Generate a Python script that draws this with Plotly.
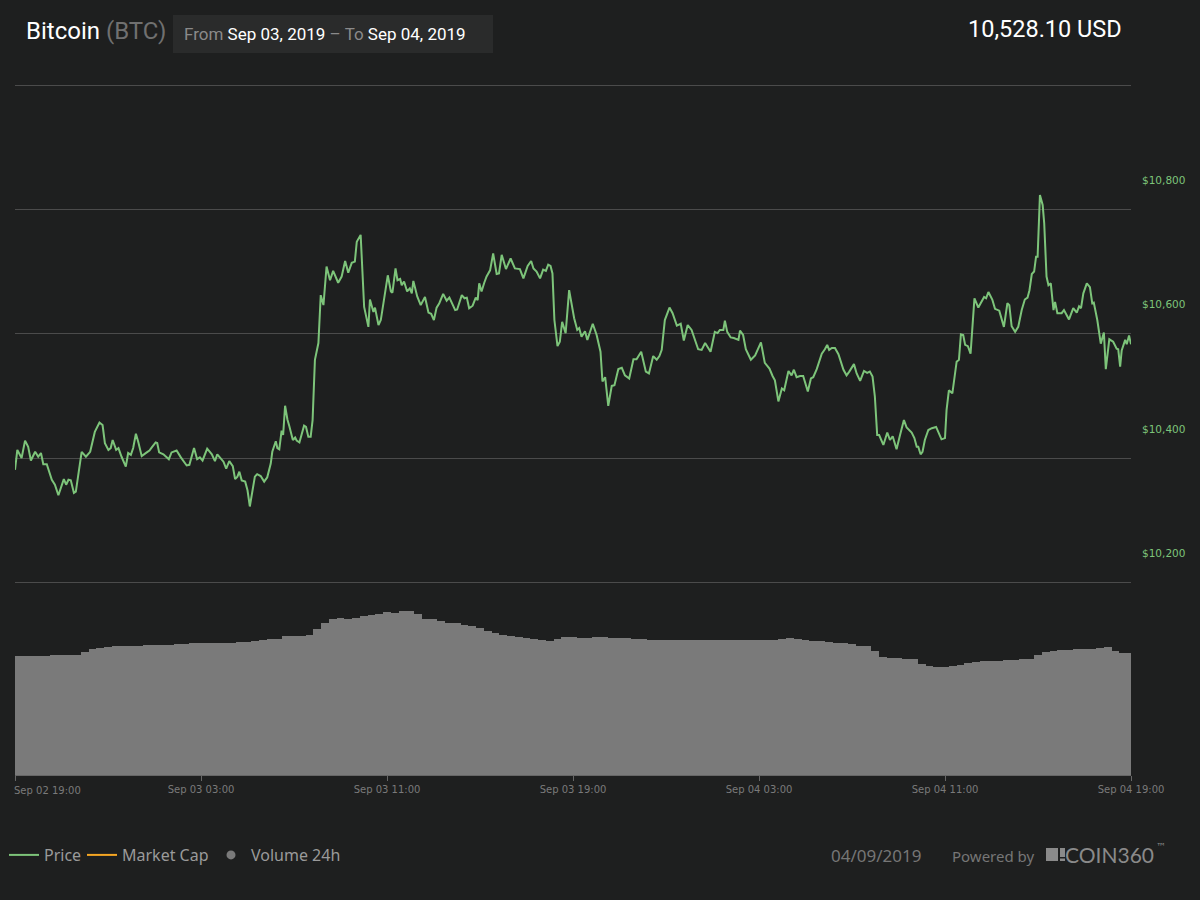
import pandas as pd
import plotly.graph_objects as go

# ---------------- data ----------------
START = pd.Timestamp("2019-09-02 19:00")
END = pd.Timestamp("2019-09-04 19:00")

# price samples: minutes after START, price in USD
price_minutes = [
    0, 6, 17, 26, 34, 41, 52, 60, 67, 73, 82, 95, 103, 112, 126, 132, 138, 144, 152, 157,
    172, 183, 194, 206, 218, 226, 232, 241, 247, 252, 261, 267, 275, 286, 292, 299, 305, 312, 318, 327,
    340, 347, 353, 363, 367, 372, 383, 397, 404, 417, 428, 443, 450, 462, 470, 477, 484, 496, 508, 516,
    522, 538, 545, 553, 562, 568, 574, 579, 585, 594, 600, 606, 619, 625, 634, 643, 651, 660, 664, 673,
    677, 682, 688, 692, 697, 703, 708, 717, 723, 727, 734, 746, 751, 757, 763,
    768, 774, 783, 789, 796, 804, 813, 821, 834, 843, 852, 860, 869, 877, 882, 892, 901, 912, 916, 925,
    929, 938, 944, 962, 970, 974, 982, 987, 994, 998, 1004, 1012, 1019, 1024, 1028, 1038, 1047, 1058, 1067, 1074,
    1081, 1088, 1095, 1105, 1114, 1121, 1136, 1141, 1153, 1160, 1166, 1172, 1181, 1189, 1194, 1198, 1204, 1211, 1217, 1226,
    1234, 1243, 1249, 1256, 1267, 1279, 1290, 1303, 1312, 1323, 1332, 1338, 1346, 1355, 1363, 1370, 1376, 1382, 1387, 1392,
    1400, 1406, 1412, 1421, 1430, 1443, 1451, 1456, 1462, 1471, 1477, 1491, 1501, 1511,
    1516, 1523, 1531, 1540, 1547, 1557, 1566, 1574, 1585, 1596, 1604, 1616, 1628, 1636, 1647, 1656, 1663, 1669, 1677, 1689,
    1697, 1708, 1718, 1726, 1736, 1746, 1763, 1772, 1781, 1795, 1806, 1813, 1819, 1828, 1832, 1838, 1847, 1855, 1867, 1871,
    1879, 1886, 1899, 1910, 1925, 1935, 1947, 1955, 1961, 1970, 1979, 1985, 1996, 2004, 2010, 2017, 2026, 2034, 2046, 2054,
    2060, 2069, 2082, 2090, 2096, 2101, 2108, 2116, 2125, 2138, 2146, 2153, 2165, 2172, 2181, 2191, 2199, 2206, 2213,
    2219, 2225, 2230, 2241, 2251, 2258, 2265, 2275, 2284, 2294, 2301, 2314, 2321, 2327, 2331, 2337, 2342, 2348, 2357, 2366,
    2377, 2383, 2391, 2400, 2404, 2410, 2419, 2430, 2436, 2441, 2447, 2452, 2459, 2466, 2476, 2486, 2495, 2501, 2506, 2512,
    2522, 2529, 2540, 2546, 2552, 2561, 2566, 2572, 2581, 2589, 2598, 2606, 2613, 2618, 2624, 2630, 2635, 2639, 2645, 2652,
    2656, 2662, 2667, 2673, 2680, 2684, 2690, 2701, 2707, 2720, 2731, 2740, 2746, 2751, 2757, 2766, 2774, 2780, 2784, 2793,
    2802, 2810, 2815, 2824, 2834, 2843, 2847, 2852, 2856, 2865, 2869, 2875, 2880,
]
price_usd = [
    10381, 10413, 10400, 10428, 10418, 10396, 10410, 10402, 10408, 10390, 10390, 10365, 10357, 10340, 10366, 10357, 10365, 10364, 10344, 10346,
    10410, 10402, 10410, 10442, 10457, 10453, 10424, 10413, 10416, 10429, 10413, 10416, 10402, 10386, 10408, 10405, 10416, 10439, 10426, 10403,
    10409, 10412, 10417, 10425, 10424, 10409, 10406, 10398, 10409, 10412, 10401, 10388, 10389, 10416, 10398, 10401, 10396, 10415, 10406, 10395,
    10406, 10394, 10383, 10395, 10387, 10366, 10370, 10378, 10364, 10362, 10348, 10322, 10370, 10374, 10371, 10362, 10369, 10391, 10410, 10427,
    10416, 10414, 10444, 10437, 10484, 10462, 10451, 10429, 10433, 10428, 10425, 10452, 10450, 10434, 10434,
    10461, 10558, 10585, 10662, 10646, 10708, 10686, 10701, 10682, 10692, 10717, 10698, 10714, 10716, 10748, 10759, 10643, 10611, 10655, 10635,
    10642, 10614, 10622, 10694, 10668, 10666, 10705, 10686, 10688, 10678, 10684, 10668, 10673, 10665, 10685, 10660, 10646, 10659, 10634, 10632,
    10622, 10642, 10649, 10664, 10653, 10658, 10638, 10639, 10662, 10657, 10658, 10641, 10645, 10658, 10654, 10681, 10668, 10682, 10692, 10702,
    10729, 10696, 10697, 10727, 10704, 10721, 10705, 10704, 10689, 10709, 10717, 10705, 10700, 10689, 10703, 10701, 10711, 10709, 10697, 10622,
    10580, 10587, 10619, 10601, 10670, 10625, 10606, 10609, 10595, 10604, 10590, 10616, 10598, 10571,
    10523, 10530, 10484, 10516, 10517, 10543, 10545, 10533, 10528, 10559, 10559, 10571, 10539, 10536, 10564, 10558, 10564, 10574, 10622, 10642,
    10633, 10613, 10616, 10589, 10614, 10606, 10575, 10574, 10585, 10571, 10603, 10601, 10606, 10606, 10621, 10603, 10594, 10593, 10590, 10605,
    10598, 10575, 10558, 10565, 10586, 10553, 10544, 10532, 10525, 10491, 10512, 10509, 10540, 10533, 10542, 10530, 10532, 10532, 10507, 10528,
    10530, 10543, 10568, 10575, 10582, 10574, 10577, 10577, 10567, 10542, 10533, 10539, 10551, 10536, 10524, 10540, 10537, 10539, 10531,
    10499, 10437, 10437, 10421, 10441, 10429, 10435, 10414, 10437, 10461, 10449, 10441, 10432, 10418, 10418, 10406, 10410, 10429, 10445, 10448,
    10450, 10441, 10430, 10432, 10477, 10509, 10504, 10555, 10558, 10599, 10598, 10582, 10580, 10568, 10657, 10642, 10651, 10659, 10657, 10667,
    10655, 10640, 10637, 10622, 10611, 10649, 10646, 10612, 10603, 10611, 10638, 10655, 10658, 10670, 10696, 10700, 10724, 10724, 10823, 10807,
    10778, 10692, 10678, 10681, 10638, 10651, 10633, 10633, 10638, 10623, 10641, 10634, 10644, 10641, 10665, 10681, 10675, 10649, 10650, 10622,
    10584, 10602, 10543, 10591, 10587, 10576, 10575, 10547, 10573, 10590, 10583, 10597, 10583,
]

# 24h volume (billions USD), one bar every 20 minutes from START
volume_bn = [
    12.33, 12.33, 12.33, 12.38, 12.38, 12.44, 12.44, 12.44, 12.44, 12.75,
    13.06, 13.21, 13.26, 13.32, 13.37, 13.42, 13.42, 13.47, 13.47, 13.52,
    13.52, 13.58, 13.58, 13.63, 13.68, 13.68, 13.68, 13.68, 13.73, 13.78,
    13.83, 13.89, 13.94, 14.09, 14.09, 14.40, 14.40, 14.40, 14.54, 15.13,
    15.75, 16.20, 16.24, 16.17, 16.27, 16.48, 16.58, 16.68, 16.89, 16.79,
    17.00, 17.00, 16.68, 16.20, 16.13, 15.96, 15.75, 15.75, 15.54, 15.44,
    15.23, 14.92, 14.72, 14.51, 14.40, 14.30, 14.20, 14.09, 13.99, 13.89,
    14.09, 14.30, 14.30, 14.20, 14.20, 14.30, 14.30, 14.20, 14.20, 14.15,
    14.09, 14.09, 13.99, 13.99, 13.99, 13.99, 13.99, 13.99, 13.99, 13.99,
    14.04, 14.04, 14.04, 14.04, 14.04, 14.04, 14.04, 14.04, 14.04, 14.09,
    14.20, 14.09, 13.99, 13.89, 13.89, 13.78, 13.68, 13.65, 13.54, 13.37,
    13.37, 12.88, 12.26, 12.15, 12.15, 12.05, 11.99, 11.47, 11.33, 11.22,
    11.22, 11.30, 11.37, 11.64, 11.68, 11.81, 11.81, 11.78, 11.92, 11.92,
    12.02, 12.02, 12.47, 12.75, 12.85, 12.92, 12.92, 13.02, 13.02, 13.02,
    13.19, 13.29, 12.88, 12.67, 12.67,
]

price_ticks = [10200, 10400, 10600, 10800]
price_tick_text = ["$10,200", "$10,400", "$10,600", "$10,800"]
price_top_grid = [11000]
x_first_tick = "2019-09-02 19:00"
x_ticks = ["2019-09-03 03:00", "2019-09-03 11:00", "2019-09-03 19:00",
           "2019-09-04 03:00", "2019-09-04 11:00", "2019-09-04 19:00"]
x_tick_text = ["Sep 03 03:00", "Sep 03 11:00", "Sep 03 19:00",
               "Sep 04 03:00", "Sep 04 11:00", "Sep 04 19:00"]
first_x_label = "Sep 02 19:00"

# ---------------- styling ----------------
BG = "#1e1f1f"
GREEN = "#7dc47a"
ORANGE = "#f5a623"
VOLGRAY = "#7a7a7a"
GRID = "#4b4b4b"
W, H = 1200, 900
ML, MR, MT, MB = 15, 69, 78, 125
PW, PH = W - ML - MR, H - MT - MB
PX_PER_USD = 124.3 / 200.0


def px(xp):
    return (xp - ML) / PW


def py(yp):
    return (H - MB - yp) / PH


split_y = 585.0
price_lo = 10200 - (split_y - 582.3) / PX_PER_USD
price_hi = 11000 + (85.1 - MT) / PX_PER_USD
vol_hi = (H - MB - split_y) / 9.65

price_times = [START + pd.Timedelta(minutes=m) for m in price_minutes]
vol_times = pd.date_range(START, periods=len(volume_bn), freq="20min")

fig = go.Figure()
fig.add_trace(go.Bar(
    x=vol_times, y=volume_bn, yaxis="y2", name="Volume 24h",
    marker=dict(color=VOLGRAY, line=dict(width=0)),
    width=20 * 60 * 1000, showlegend=False, hoverinfo="skip",
))
fig.add_trace(go.Scatter(
    x=price_times, y=price_usd, mode="lines", name="Price",
    line=dict(color=GREEN, width=2), legendwidth=33,
))
fig.add_trace(go.Scatter(
    x=[None], y=[None], mode="lines", name="Market Cap",
    line=dict(color=ORANGE, width=2), legendwidth=84,
))
fig.add_trace(go.Scatter(
    x=[None], y=[None], mode="markers", name="Volume 24h",
    marker=dict(color=VOLGRAY, size=9, symbol="circle"), legendwidth=95,
))

fig.update_layout(
    width=W, height=H,
    margin=dict(l=ML, r=MR, t=MT, b=MB),
    paper_bgcolor=BG, plot_bgcolor=BG,
    bargap=0,
    showlegend=True,
    legend=dict(
        orientation="h", xref="container", yref="container",
        x=4 / W, xanchor="left", y=(H - 855) / H, yanchor="middle",
        font=dict(family="Noto Sans", size=16, color="#9a9a9a"),
        bgcolor="rgba(0,0,0,0)", itemwidth=30, itemclick=False,
    ),
    xaxis=dict(
        type="date", range=[START, END],
        tickvals=x_ticks, ticktext=x_tick_text,
        ticks="outside", ticklen=5, tickcolor="#666666", tickwidth=1,
        minor=dict(tickvals=[x_first_tick], ticks="outside", ticklen=5,
                   tickcolor="#666666", tickwidth=1, showgrid=False),
        showline=True, linecolor="#666666", linewidth=1,
        showgrid=False, zeroline=False, anchor="y2",
        tickfont=dict(family="DejaVu Sans", size=10, color="#7a7a7a"),
    ),
    yaxis=dict(
        domain=[py(split_y), 1], range=[price_lo, price_hi], side="right",
        tickvals=price_ticks, ticktext=price_tick_text,
        showgrid=True, gridcolor=GRID, gridwidth=1,
        minor=dict(tickvals=price_top_grid, showgrid=True, gridcolor=GRID,
                   gridwidth=1, ticks=""),
        zeroline=False, showline=False, ticks="",
        ticklabelshift=-29, ticklabelstandoff=10,
        tickfont=dict(family="DejaVu Sans", size=10.5, color=GREEN),
    ),
    yaxis2=dict(
        domain=[0, py(split_y)], range=[0, vol_hi],
        showgrid=False, zeroline=False, showticklabels=False, showline=False,
    ),
    shapes=[
        dict(type="rect", xref="paper", yref="paper", x0=px(173), x1=px(493), y0=py(53), y1=py(15),
             fillcolor="#2a2b2b", line=dict(width=0), layer="below"),
        dict(type="rect", xref="paper", yref="paper", x0=px(1046), x1=px(1058), y0=py(861), y1=py(848),
             fillcolor="#8a8a8a", line=dict(width=0)),
        dict(type="rect", xref="paper", yref="paper", x0=px(1060), x1=px(1065), y0=py(857), y1=py(848),
             fillcolor="#8a8a8a", line=dict(width=0)),
        dict(type="rect", xref="paper", yref="paper", x0=px(1060), x1=px(1065), y0=py(861), y1=py(858.5),
             fillcolor="#8a8a8a", line=dict(width=0)),
    ],
    annotations=[
        dict(text="Bitcoin <span style='color:#707070'>(BTC)</span>", xref="paper", yref="paper",
             x=px(24), y=py(31), xanchor="left", yanchor="middle", showarrow=False,
             font=dict(family="Roboto", size=24, color="#ffffff")),
        dict(text="<span style='color:#8a8a8a'>From</span> Sep 03, 2019 "
                  "<span style='color:#8a8a8a'>– To</span> Sep 04, 2019",
             xref="paper", yref="paper", x=px(182), y=py(34), xanchor="left", yanchor="middle",
             showarrow=False, font=dict(family="Roboto", size=17, color="#ffffff")),
        dict(text="10,528.10 USD", xref="paper", yref="paper", x=px(1124), y=py(29),
             xanchor="right", yanchor="middle", showarrow=False,
             font=dict(family="Roboto", size=23.5, color="#ffffff")),
        dict(text=first_x_label, xref="x", yref="paper", x=x_first_tick, y=0, yshift=-8, xshift=-3,
             xanchor="left", yanchor="top", showarrow=False,
             font=dict(family="DejaVu Sans", size=10, color="#7a7a7a")),
        dict(text="04/09/2019", xref="paper", yref="paper", x=px(923), y=py(855),
             xanchor="right", yanchor="middle", showarrow=False,
             font=dict(family="Noto Sans", size=17, color="#767676")),
        dict(text="Powered by", xref="paper", yref="paper", x=px(950), y=py(856),
             xanchor="left", yanchor="middle", showarrow=False,
             font=dict(family="Noto Sans", size=15, color="#767676")),
        dict(text="COIN360", xref="paper", yref="paper",
             x=px(1064), y=py(854), xanchor="left", yanchor="middle", showarrow=False,
             borderpad=0, font=dict(family="Lato", size=21, color="#8a8a8a")),
        dict(text="™", xref="paper", yref="paper",
             x=px(1155), y=py(846), xanchor="left", yanchor="middle", showarrow=False,
             borderpad=0, font=dict(family="DejaVu Sans", size=10, color="#8a8a8a")),
    ],
)

fig.write_html(
    "out.html",
    config={"displayModeBar": False},
    post_script="document.body.style.margin='0';document.body.style.background='#1e1f1f';",
)
